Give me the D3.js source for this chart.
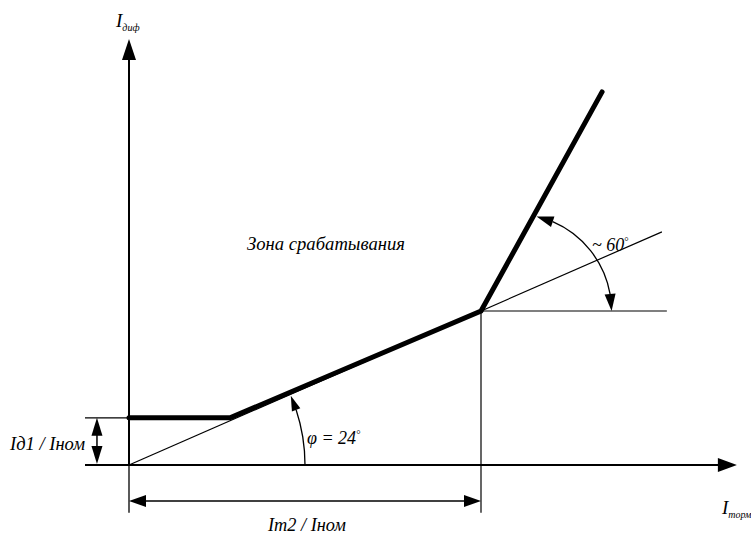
<!DOCTYPE html>
<html><head><meta charset="utf-8">
<script src="https://cdn.jsdelivr.net/npm/d3@7"></script>
<style>
body{margin:0;background:#fff}
svg{display:block}
text{font-family:"Liberation Serif","Times New Roman",serif;font-style:italic;fill:#000}
</style>
</head><body>
<svg id="chart" width="751" height="534"></svg>
<script>
// ---- data (relative units: Iт2/Iном = 1) ----
const charX = [0, 0.287, 1.0, 1.344];        // characteristic break points (Iторм)
const charY = [0.134, 0.134, 0.4375, 1.06];  // characteristic (Iдиф)
const id1Level = 0.134;
const im2Level = 1.0;
const xAxisExtent = [-0.125, 1.727];
const yAxisExtent = [-0.136, 1.21];
const refLineEndX = 1.514;
const horizLineEndX = 1.528;
const phiArcRadius = 0.5;
const sixtyArcCenterX = 1.095;
const sixtyArcRadius = 0.276;
const zoneLabel = "Зона срабатывания";
const id1Label = "Iд1 / Iном";
const im2Label = "Iт2 / Iном";
const phiLabel = ["φ", " = 24", "°"];
const sixtyLabel = ["~ 60", "°"];
const yAxisLabel = ["I", "диф"];
const xAxisLabel = ["I", "торм"];

// ---- scales ----
const x = d3.scaleLinear().domain([0, 1]).range([129, 481]);
const y = d3.scaleLinear().domain([0, 1]).range([465, 113]);
const svg = d3.select("#chart");
const k = x(1) - x(0);

function line(x1, y1, x2, y2, w) {
  svg.append("line").attr("x1", x1).attr("y1", y1).attr("x2", x2).attr("y2", y2)
    .attr("stroke", "#000").attr("stroke-width", w);
}
function arrowHead(tx, ty, dx, dy, len, wid) {
  const n = Math.hypot(dx, dy); dx /= n; dy /= n;
  const bx = tx - dx * len, by = ty - dy * len;
  const px = -dy * wid / 2, py = dx * wid / 2;
  svg.append("path").attr("d", `M${tx},${ty}L${bx + px},${by + py}L${bx - px},${by - py}Z`)
    .attr("fill", "#000");
}

// ---- axes ----
line(x(0), y(0), x(0), y(yAxisExtent[1]) + 10, 2);
arrowHead(x(0), y(yAxisExtent[1]), 0, -1, 21, 14);
line(x(0), y(0), x(0), y(yAxisExtent[0]), 1.3);
line(x(xAxisExtent[0]), y(0), x(xAxisExtent[1]) - 10, y(0), 2);
arrowHead(x(xAxisExtent[1]), y(0), 1, 0, 19, 14);

// ---- thin reference lines ----
const slope = charY[2] / charX[2];
line(x(0), y(0), x(refLineEndX), y(slope * refLineEndX), 1.2);
line(x(charX[2]), y(charY[2]), x(horizLineEndX), y(charY[2]), 1.2);
line(x(charX[2]), y(charY[2]), x(charX[2]), y(yAxisExtent[0]), 1.2);
line(x(xAxisExtent[0]), y(id1Level), x(0), y(id1Level), 1.3);

// ---- characteristic ----
svg.append("path")
  .datum(charX.map((d, i) => [d, charY[i]]))
  .attr("d", d3.line().x(d => x(d[0])).y(d => y(d[1])))
  .attr("fill", "none").attr("stroke", "#000").attr("stroke-width", 5)
  .attr("stroke-linecap", "round").attr("stroke-linejoin", "miter");

// ---- dimension Iт2 ----
const dimY = y(-0.102);
line(x(0) + 10, dimY, x(im2Level) - 10, dimY, 1.5);
arrowHead(x(0), dimY, -1, 0, 17, 12);
arrowHead(x(im2Level), dimY, 1, 0, 17, 12);

// ---- dimension Iд1 ----
const dimX = x(-0.091);
line(dimX, y(id1Level) + 10, dimX, y(0) - 10, 1.5);
arrowHead(dimX, y(id1Level), 0, -1, 18, 11);
arrowHead(dimX, y(0) - 1, 0, 1, 18, 11);

// ---- phi arc (centre at origin) ----
{
  const r = phiArcRadius;
  const m = (charY[2] - charY[1]) / (charX[2] - charX[1]);
  const c = charY[1] - m * charX[1];
  const A = 1 + m * m, B = 2 * m * c, C = c * c - r * r;
  const xi = (-B + Math.sqrt(B * B - 4 * A * C)) / (2 * A);
  const ang = Math.atan2(m * xi + c, xi) - 3.5 / (r * k);
  const rp = r * k;
  const tx = x(0) + rp * Math.cos(ang), ty = y(0) - rp * Math.sin(ang);
  const baseAng = ang - 15 / rp;
  const bx = x(0) + rp * Math.cos(baseAng), by = y(0) - rp * Math.sin(baseAng);
  svg.append("path").attr("d", `M${x(r)},${y(0)}A${rp},${rp} 0 0 0 ${bx},${by}`)
    .attr("fill", "none").attr("stroke", "#000").attr("stroke-width", 1.3);
  arrowHead(tx, ty, tx - bx, ty - by, 15, 9);
}

// ---- 60 deg arc ----
{
  const cx = x(sixtyArcCenterX), cy = y(charY[2]);
  const rp = sixtyArcRadius * k;
  const dx = x(charX[3]) - x(charX[2]), dy = y(charY[3]) - y(charY[2]);
  const ox = x(charX[2]) - cx, oy = y(charY[2]) - cy;
  const A = dx * dx + dy * dy, B = 2 * (ox * dx + oy * dy), C = ox * ox + oy * oy - rp * rp;
  const t = (-B + Math.sqrt(B * B - 4 * A * C)) / (2 * A);
  const ix = x(charX[2]) + t * dx, iy = y(charY[2]) + t * dy;
  let a0 = Math.atan2(cy - iy, ix - cx) - 3 / rp;
  const tx = cx + rp * Math.cos(a0), ty = cy - rp * Math.sin(a0);
  const a1 = a0 - 17 / rp;
  const bx = cx + rp * Math.cos(a1), by = cy - rp * Math.sin(a1);
  const ex = cx + rp, ey = cy;
  const a2 = 17 / rp;
  const ebx = cx + rp * Math.cos(a2), eby = cy - rp * Math.sin(a2);
  svg.append("path").attr("d", `M${bx},${by}A${rp},${rp} 0 0 1 ${ebx},${eby}`)
    .attr("fill", "none").attr("stroke", "#000").attr("stroke-width", 1.3);
  arrowHead(tx, ty, tx - bx, ty - by, 17, 11);
  arrowHead(ex, ey, ex - ebx, ey - eby, 17, 11);
}

// ---- labels ----
svg.append("text").attr("x", 247).attr("y", 250).attr("font-size", 18)
  .attr("textLength", 158).attr("lengthAdjust", "spacingAndGlyphs").text(zoneLabel);
svg.append("text").attr("x", 268).attr("y", 531).attr("font-size", 18)
  .attr("textLength", 78).attr("lengthAdjust", "spacingAndGlyphs").text(im2Label);
svg.append("text").attr("x", 10).attr("y", 450).attr("font-size", 18)
  .attr("textLength", 75).attr("lengthAdjust", "spacingAndGlyphs").text(id1Label);
{
  const t = svg.append("text").attr("x", 307).attr("y", 444).attr("font-size", 18);
  t.append("tspan").text(phiLabel[0]);
  t.append("tspan").text(phiLabel[1]);
  t.append("tspan").attr("font-size", 11).attr("dy", -6).attr("font-style", "normal").text(phiLabel[2]);
}
{
  const t = svg.append("text").attr("x", 592).attr("y", 251).attr("font-size", 18);
  t.append("tspan").text(sixtyLabel[0]);
  t.append("tspan").attr("font-size", 11).attr("dy", -6).attr("font-style", "normal").text(sixtyLabel[1]);
}
{
  const t = svg.append("text").attr("x", 116).attr("y", 27).attr("font-size", 19);
  t.append("tspan").text(yAxisLabel[0]);
  t.append("tspan").attr("font-size", 10).attr("dy", 4).text(yAxisLabel[1]);
}
{
  const t = svg.append("text").attr("x", 722).attr("y", 514).attr("font-size", 19);
  t.append("tspan").text(xAxisLabel[0]);
  t.append("tspan").attr("font-size", 10).attr("dy", 4).text(xAxisLabel[1]);
}
</script>
</body></html>
